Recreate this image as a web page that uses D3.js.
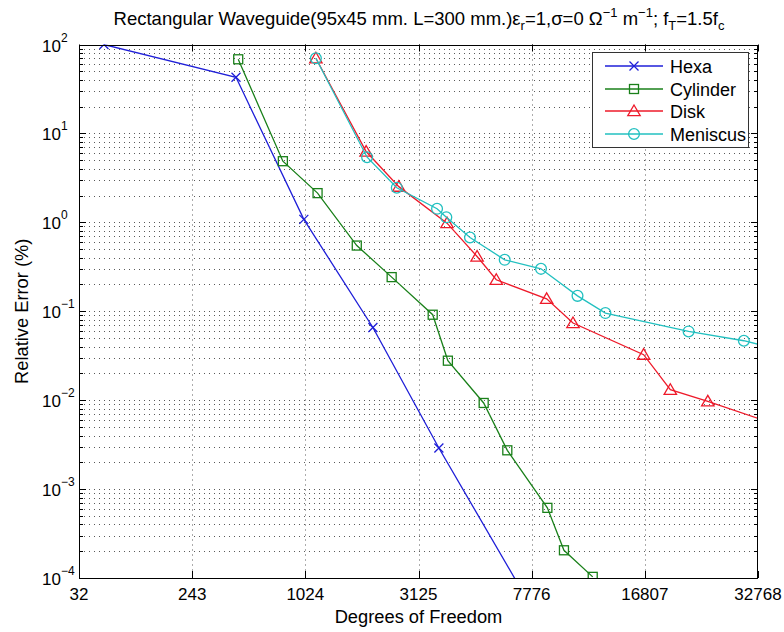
<!DOCTYPE html>
<html>
<head>
<meta charset="utf-8">
<script src="https://cdn.jsdelivr.net/npm/d3@7"></script>
<style>
body { margin: 0; background: #fff; }
text { font-family: "Liberation Sans", Arial, Helvetica, sans-serif; fill: #000; }
</style>
</head>
<body>
<svg id="chart" width="784" height="632"></svg>
<script>
// axis ticks
const xTicks = [32, 243, 1024, 3125, 7776, 16807, 32768];
const yTicks = [1e-4, 1e-3, 1e-2, 1e-1, 1e0, 1e1, 1e2];
const yExps = ["\u22124", "\u22123", "\u22122", "\u22121", "0", "1", "2"];

// series (degrees of freedom, relative error %)
const hexaDof = [54, 446, 1007, 2053, 3730, 8270];
const hexaErr = [100, 42.8, 1.08, 0.0657, 0.0029, 0.000032];

const cylDof = [459, 794, 1170, 1754, 2451, 3537, 4025, 5390, 6478, 8718, 9809, 11960];
const cylErr = [68.2, 4.87, 2.13, 0.548, 0.242, 0.0914, 0.0278, 0.0093, 0.00273, 0.000615, 0.000205, 0.000103];

const diskDof = [1149, 1923, 2618, 3996, 5115, 5950, 8673, 10450, 16680, 19690, 24640, 39390];
const diskErr = [70, 6.25, 2.52, 0.98, 0.413, 0.226, 0.138, 0.0737, 0.0325, 0.0131, 0.0097, 0.00462];

const menDof = [1149, 1941, 2570, 3672, 3973, 4830, 6350, 8325, 10780, 13020, 21990, 30290, 38940];
const menErr = [70, 5.4, 2.45, 1.42, 1.14, 0.675, 0.379, 0.30, 0.149, 0.0955, 0.0593, 0.0466, 0.0346];

const names = ["Hexa", "Cylinder", "Disk", "Meniscus"];
const colors = ["#1f1fd8", "#1a801a", "#ee1a2a", "#22c0c0"];
const symbols = ["x", "square", "triangle", "circle"];

const series = [
    {dof: hexaDof, err: hexaErr},
    {dof: cylDof, err: cylErr},
    {dof: diskDof, err: diskErr},
    {dof: menDof, err: menErr}
].map((s, i) => ({
    name: names[i], color: colors[i], symbol: symbols[i],
    points: s.dof.map((d, j) => ({dof: d, err: s.err[j]}))
}));

let pLeft = 79, pRight = 758, pTop = 44.5, pBottom = 578;

let svg = d3.select("#chart");

// x axis is linear in DOF^(1/5)
let x = d3.scalePow().exponent(0.2).domain([32, 32768]).range([pLeft, pRight]);
let y = d3.scaleLog().domain([1e-4, 1e2]).range([pBottom, pTop]);

svg.append("rect")
    .attr("x", 0).attr("y", 0).attr("width", 784).attr("height", 632)
    .attr("fill", "#fff");

// minor y values
let yMinor = [];
for (let k = -4; k < 2; k++) {
    for (let m = 2; m <= 9; m++) yMinor.push(m * Math.pow(10, k));
}

let grid = svg.append("g")
    .attr("stroke", "#222")
    .attr("stroke-width", 1)
    .attr("stroke-dasharray", "1,4")
    .attr("opacity", 0.75);

grid.selectAll("line.gy")
    .data(yMinor.concat(yTicks.slice(1, -1)))
    .enter().append("line")
    .attr("class", "gy")
    .attr("x1", pLeft).attr("x2", pRight)
    .attr("y1", d => Math.round(y(d)) + 0.5)
    .attr("y2", d => Math.round(y(d)) + 0.5);

grid.selectAll("line.gx")
    .data(xTicks.slice(1, -1))
    .enter().append("line")
    .attr("class", "gx")
    .attr("y1", pTop).attr("y2", pBottom)
    .attr("x1", d => Math.round(x(d)) + 0.5)
    .attr("x2", d => Math.round(x(d)) + 0.5);

// ticks, inward on all four sides
let ticks = svg.append("g").attr("stroke", "#000").attr("stroke-width", 1);
yMinor.forEach(v => {
    let yy = Math.round(y(v)) + 0.5;
    ticks.append("line").attr("x1", pLeft).attr("x2", pLeft + 4).attr("y1", yy).attr("y2", yy);
    ticks.append("line").attr("x1", pRight).attr("x2", pRight - 4).attr("y1", yy).attr("y2", yy);
});
yTicks.forEach(v => {
    let yy = Math.round(y(v)) + 0.5;
    ticks.append("line").attr("x1", pLeft).attr("x2", pLeft + 7).attr("y1", yy).attr("y2", yy);
    ticks.append("line").attr("x1", pRight).attr("x2", pRight - 7).attr("y1", yy).attr("y2", yy);
});
xTicks.forEach(v => {
    let xx = Math.round(x(v)) + 0.5;
    ticks.append("line").attr("x1", xx).attr("x2", xx).attr("y1", pBottom).attr("y2", pBottom - 7);
    ticks.append("line").attr("x1", xx).attr("x2", xx).attr("y1", pTop).attr("y2", pTop + 7);
});

// clip to plot area
svg.append("clipPath").attr("id", "clip")
    .append("rect")
    .attr("x", pLeft).attr("y", pTop)
    .attr("width", pRight - pLeft).attr("height", pBottom - pTop);

let line = d3.line().x(d => x(d.dof)).y(d => y(d.err));

function marker(sel, sym) {
    if (sym == "x") {
        sel.append("path").attr("d", "M-4.5,-4.5L4.5,4.5M-4.5,4.5L4.5,-4.5");
    } else if (sym == "square") {
        sel.append("rect").attr("x", -4.5).attr("y", -4.5).attr("width", 9).attr("height", 9);
    } else if (sym == "triangle") {
        sel.append("path").attr("d", "M0,-6L6.2,4.6L-6.2,4.6Z");
    } else {
        sel.append("circle").attr("r", 5.4);
    }
}

let plot = svg.append("g").attr("clip-path", "url(#clip)");

series.forEach(s => {
    let g = plot.append("g");
    g.append("path")
        .datum(s.points)
        .attr("d", line)
        .attr("fill", "none")
        .attr("stroke", s.color)
        .attr("stroke-width", 1.3);
    g.selectAll("g.m")
        .data(s.points)
        .enter().append("g")
        .attr("class", "m")
        .attr("transform", d => `translate(${x(d.dof)},${y(d.err)})`)
        .attr("fill", "none")
        .attr("stroke", s.color)
        .attr("stroke-width", 1.3)
        .each(function() { marker(d3.select(this), s.symbol); });
});

// plot box
svg.append("rect")
    .attr("x", pLeft + 0.5).attr("y", Math.round(pTop) + 0.5)
    .attr("width", pRight - pLeft - 1).attr("height", Math.round(pBottom) - Math.round(pTop))
    .attr("fill", "none").attr("stroke", "#000").attr("stroke-width", 1);

// tick labels
svg.selectAll("text.xt")
    .data(xTicks)
    .enter().append("text")
    .attr("class", "xt")
    .attr("x", d => x(d))
    .attr("y", 600)
    .attr("text-anchor", "middle")
    .style("font-size", "17px")
    .text(d => d);

yTicks.forEach((v, i) => {
    let t = svg.append("text")
        .attr("x", 42)
        .attr("y", y(v) + 7)
        .style("font-size", "17px");
    t.append("tspan").text("10");
    t.append("tspan").attr("dy", -10).style("font-size", "12px").text(yExps[i]);
});

// axis labels
svg.append("text")
    .attr("x", (pLeft + pRight) / 2)
    .attr("y", 623)
    .attr("text-anchor", "middle")
    .style("font-size", "18.3px")
    .text("Degrees of Freedom");

svg.append("text")
    .attr("transform", `translate(28,${(pTop + pBottom) / 2}) rotate(-90)`)
    .attr("text-anchor", "middle")
    .style("font-size", "18.3px")
    .text("Relative Error (%)");

// title with sub/superscripts
let title = svg.append("text")
    .attr("x", 419)
    .attr("y", 25)
    .attr("text-anchor", "middle")
    .style("font-size", "18.5px");
title.append("tspan").text("Rectangular Waveguide(95x45 mm. L=300 mm.)\u03b5");
title.append("tspan").attr("dy", 5).style("font-size", "13px").text("r");
title.append("tspan").attr("dy", -5).text("=1,\u03c3=0 \u03a9");
title.append("tspan").attr("dy", -8).style("font-size", "13px").text("\u22121");
title.append("tspan").attr("dy", 8).text(" m");
title.append("tspan").attr("dy", -8).style("font-size", "13px").text("\u22121");
title.append("tspan").attr("dy", 8).text("; f");
title.append("tspan").attr("dy", 5).style("font-size", "13px").text("T");
title.append("tspan").attr("dy", -5).text("=1.5f");
title.append("tspan").attr("dy", 5).style("font-size", "13px").text("c");

// legend
let lg = svg.append("g");
lg.append("rect")
    .attr("x", 592.5).attr("y", 52.5).attr("width", 156).attr("height", 95)
    .attr("fill", "#fff").attr("stroke", "#333").attr("stroke-width", 1);
let legendY = [66, 89, 111, 134];
series.forEach((s, i) => {
    let ly = legendY[i];
    lg.append("line")
        .attr("x1", 605).attr("x2", 663).attr("y1", ly).attr("y2", ly)
        .attr("stroke", s.color).attr("stroke-width", 1.3);
    lg.append("g")
        .attr("transform", `translate(634,${ly})`)
        .attr("fill", "none").attr("stroke", s.color).attr("stroke-width", 1.3)
        .call(sel => marker(sel, s.symbol));
    lg.append("text")
        .attr("x", 670).attr("y", ly + 6.5)
        .style("font-size", "18px")
        .text(s.name);
});
</script>
</body>
</html>
